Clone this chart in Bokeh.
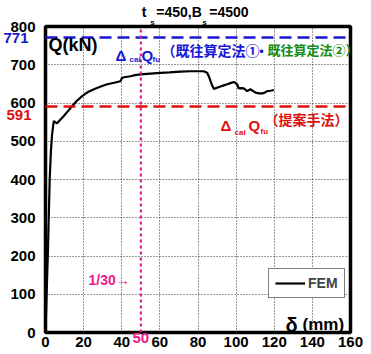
from bokeh.plotting import figure
from bokeh.models import Range1d, FixedTicker, Label, Arrow, LinearAxis
from bokeh.embed import file_html
from bokeh.resources import INLINE

# ---------------- data ----------------
disp = [0, 0.6, 1.2, 1.7, 2.2, 2.8, 3.4, 4.0, 4.4, 5.0, 6.1, 7.5, 9.6, 12.0, 14.0,
        16.5, 19.2, 22.0, 25.4, 29.0, 32.4, 36.0, 39.3, 40.2, 42.0, 44.6, 47.0,
        49.8, 55.0, 60.3, 65.0, 70.8, 76.0, 80.0, 83.0, 84.8, 85.8, 86.6, 87.5,
        88.3, 90.0, 91.8, 93.5, 95.3, 97.0, 98.8, 100.5, 101.4, 102.5, 104.0,
        105.8, 107.5, 109.0, 110.2, 112.0, 113.7, 115.0, 116.3, 118.0, 119.8]
load = [0, 100, 200, 300, 400, 470, 515, 540, 553, 550, 547, 555, 566, 580, 592,
        606, 618, 628, 636, 643, 649, 653, 657, 666, 668, 670, 673,
        675, 677, 679, 680, 682, 683, 683, 683, 679, 668, 657, 645,
        637, 640, 643, 646, 649, 652, 655, 649, 638, 639, 638,
        631, 636, 631, 627, 625, 625, 627, 631, 632, 634]
x_ticks = [0, 20, 40, 60, 80, 100, 120, 140, 160]
y_ticks = [0, 100, 200, 300, 400, 500, 600, 700, 800]
q_prev = 771      # 既往算定法
q_prop = 591      # 提案手法
drift_disp = 50   # 1/30
title_main = ["t", "=450,B", "=4500"]
title_sub = ["s", "s"]

LAT = "Liberation Sans"
CJK = "Noto Sans CJK JP"
BLUE = "#1717d6"
GREEN = "#138a13"
RED = "#e01010"
MAG = "#f0168c"

W, H = 371, 354
FL, FR, FT, FB = 45, 350, 25, 332   # frame edges in page pixels

p = figure(width=W, height=H, output_backend="svg", toolbar_location=None,
           x_range=Range1d(0, 160), y_range=Range1d(0, 800),
           min_border_left=FL, min_border_right=W - FR,
           min_border_top=FT, min_border_bottom=H - FB)
p.outline_line_color = "black"
p.outline_line_width = 3.5
p.background_fill_color = "white"
p.border_fill_color = "white"


def px2x(X):
    return (X - FL) * 160.0 / (FR - FL)


def px2y(Y):
    return (FB - Y) * 800.0 / (FB - FT)


def style_axis(ax, size="15px", color="black", standoff=2):
    ax.axis_line_color = None
    ax.major_tick_line_color = None
    ax.minor_tick_line_color = None
    ax.major_tick_out = 0
    ax.major_tick_in = 0
    ax.major_label_text_font = LAT
    ax.major_label_text_font_style = "bold"
    ax.major_label_text_font_size = size
    ax.major_label_text_color = color
    ax.major_label_standoff = standoff


p.xaxis[0].ticker = FixedTicker(ticks=x_ticks)
p.yaxis[0].ticker = FixedTicker(ticks=y_ticks)
style_axis(p.xaxis[0], standoff=4)
style_axis(p.yaxis[0], standoff=10)

# colored extra tick labels (591 label sits just below its line, as in the original)
ax771 = LinearAxis(ticker=FixedTicker(ticks=[q_prev]))
style_axis(ax771, color=BLUE, standoff=-21)
p.add_layout(ax771, "left")
pos591 = px2y(113.5)
ax591 = LinearAxis(ticker=FixedTicker(ticks=[pos591]),
                   major_label_overrides={pos591: str(q_prop)})
style_axis(ax591, color=RED, standoff=-31)
p.add_layout(ax591, "left")
ax50 = LinearAxis(ticker=FixedTicker(ticks=[drift_disp]))
style_axis(ax50, color=MAG, standoff=-17)
p.add_layout(ax50, "below")

# title built from two axes above (main text and subscripts)
sub_pos = [px2x(152), px2x(204)]
main_pos = [px2x(143.5), px2x(178.5), px2x(228.5)]
ax_sub = LinearAxis(ticker=FixedTicker(ticks=sub_pos),
                    major_label_overrides={v: t for v, t in zip(sub_pos, title_sub)})
style_axis(ax_sub, size="8px", standoff=0)
p.add_layout(ax_sub, "above")
ax_main = LinearAxis(ticker=FixedTicker(ticks=main_pos),
                     major_label_overrides={v: t for v, t in zip(main_pos, title_main)})
style_axis(ax_main, size="14px", standoff=-5)
p.add_layout(ax_main, "above")

p.xgrid.ticker = FixedTicker(ticks=x_ticks)
p.ygrid.ticker = FixedTicker(ticks=y_ticks)
for g in (p.xgrid, p.ygrid):
    g.grid_line_color = "#333333"
    g.grid_line_dash = "1 2"
    g.grid_line_width = 1

p.line(disp, load, line_color="black", line_width=2.2, legend_label="FEM")

# reference lines
p.add_layout(Arrow(end=None, x_start=0, y_start=q_prev, x_end=160, y_end=q_prev,
                   line_color=BLUE, line_width=2.5, line_dash="12 6"))
p.add_layout(Arrow(end=None, x_start=0, y_start=q_prop, x_end=160, y_end=q_prop,
                   line_color=RED, line_width=2.5, line_dash="12 6"))
p.add_layout(Arrow(end=None, x_start=drift_disp, y_start=0, x_end=drift_disp, y_end=800,
                   line_color=MAG, line_width=2.2, line_dash="3 3"))


def lab(X, Y, text, size, color="black", font=LAT, base="alphabetic"):
    p.add_layout(Label(x=px2x(X), y=px2y(Y), text=text, text_font=font,
                       text_font_size=size, text_font_style="bold",
                       text_color=color, text_align="left", text_baseline=base))


# axis titles
lab(48, 44, "Q(kN)", "18px")
lab(285, 324, "δ", "20px")
lab(302, 324, "(mm)", "17px")

# blue / green annotation
lab(115, 54, "Δ", "15px", BLUE)
lab(129, 58, "cal", "8px", BLUE)
lab(141, 54, "Q", "15px", BLUE)
lab(152, 58, "fu", "8px", BLUE)
lab(161, 48.5, "（既往算定法①", "14px", BLUE, CJK, base="middle")
lab(254, 48.5, "・", "14px", BLUE, CJK, base="middle")
lab(267, 48.5, "既往算定法②）", "13px", GREEN, CJK, base="middle")

# red annotation
lab(220, 124, "Δ", "15px", RED)
lab(234, 131, "cal", "8px", RED)
lab(248, 124, "Q", "15px", RED)
lab(260, 130, "fu", "8px", RED)
lab(264, 118, "（提案手法）", "14px", RED, CJK, base="middle")

# 1/30 arrow
lab(88, 279, "1/30→", "14px", MAG)

leg = p.legend[0]
leg.location = (268 - FL, FB - 298)
leg.background_fill_color = "white"
leg.background_fill_alpha = 1
leg.border_line_color = "black"
leg.border_line_width = 1
leg.label_text_font = LAT
leg.label_text_font_style = "bold"
leg.label_text_font_size = "14px"
leg.glyph_width = 30
leg.glyph_height = 14
leg.label_height = 14
leg.label_standoff = 3
leg.padding = 6
leg.margin = 0
leg.spacing = 0

open("out.html", "w").write(file_html(p, INLINE))
